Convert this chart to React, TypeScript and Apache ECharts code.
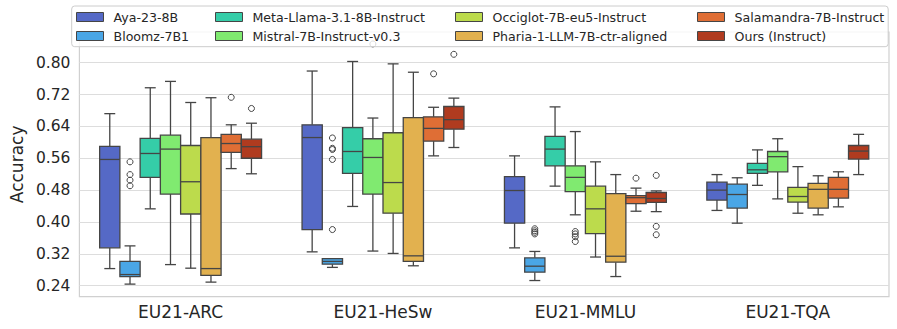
import React, { useEffect, useRef } from 'react';
import * as echarts from 'echarts';

const categories = ['EU21-ARC', 'EU21-HeSw', 'EU21-MMLU', 'EU21-TQA'];
const models = [
  'Aya-23-8B',
  'Bloomz-7B1',
  'Meta-Llama-3.1-8B-Instruct',
  'Mistral-7B-Instruct-v0.3',
  'Occiglot-7B-eu5-Instruct',
  'Pharia-1-LLM-7B-ctr-aligned',
  'Salamandra-7B-Instruct',
  'Ours (Instruct)',
];
const colors = ['#5569c6', '#4aa6e6', '#35cda8', '#80ea70', '#bcdb4c', '#e2b14f', '#df6e35', '#b03b1f'];

// [lower whisker, Q1, median, Q3, upper whisker] for ARC, HeSw, MMLU, TQA
const ayaStats = [
  [0.283, 0.335, 0.557, 0.590, 0.672],
  [0.325, 0.381, 0.612, 0.644, 0.779],
  [0.335, 0.397, 0.479, 0.514, 0.566],
  [0.429, 0.455, 0.480, 0.500, 0.519],
];
const bloomzStats = [
  [0.244, 0.263, 0.268, 0.301, 0.340],
  [0.286, 0.294, 0.301, 0.308, 0.308],
  [0.253, 0.274, 0.289, 0.310, 0.326],
  [0.397, 0.435, 0.469, 0.495, 0.511],
];
const metaStats = [
  [0.433, 0.512, 0.572, 0.610, 0.737],
  [0.439, 0.522, 0.577, 0.637, 0.803],
  [0.490, 0.541, 0.583, 0.615, 0.689],
  [0.492, 0.522, 0.531, 0.547, 0.581],
];
const mistralStats = [
  [0.293, 0.470, 0.583, 0.618, 0.753],
  [0.327, 0.470, 0.562, 0.609, 0.661],
  [0.418, 0.476, 0.512, 0.541, 0.627],
  [0.458, 0.526, 0.564, 0.577, 0.609],
];
const occiglotStats = [
  [0.284, 0.420, 0.501, 0.592, 0.700],
  [0.321, 0.422, 0.499, 0.624, 0.797],
  [0.312, 0.371, 0.433, 0.490, 0.551],
  [0.422, 0.450, 0.464, 0.487, 0.539],
];
const phariaStats = [
  [0.249, 0.266, 0.283, 0.612, 0.712],
  [0.290, 0.301, 0.315, 0.662, 0.776],
  [0.263, 0.299, 0.314, 0.471, 0.519],
  [0.418, 0.435, 0.482, 0.497, 0.516],
];
const salamandraStats = [
  [0.534, 0.575, 0.597, 0.620, 0.644],
  [0.566, 0.603, 0.635, 0.664, 0.688],
  [0.427, 0.446, 0.461, 0.466, 0.485],
  [0.438, 0.460, 0.482, 0.512, 0.526],
];
const oursStats = [
  [0.521, 0.560, 0.589, 0.608, 0.648],
  [0.587, 0.633, 0.657, 0.690, 0.711],
  [0.426, 0.449, 0.459, 0.474, 0.478],
  [0.519, 0.558, 0.578, 0.592, 0.620],
];

// outliers: [category index, value]
const ayaOutliers: number[][] = [];
const bloomzOutliers = [
  [0, 0.551], [0, 0.519], [0, 0.505], [0, 0.491],
  [1, 0.611], [1, 0.585], [1, 0.582], [1, 0.557], [1, 0.381],
  [2, 0.383], [2, 0.378], [2, 0.374], [2, 0.370],
];
const metaOutliers: number[][] = [];
const mistralOutliers = [
  [1, 0.847],
  [2, 0.376], [2, 0.370], [2, 0.363], [2, 0.351],
];
const occiglotOutliers: number[][] = [];
const phariaOutliers: number[][] = [];
const salamandraOutliers = [[0, 0.713], [1, 0.772], [2, 0.510]];
const oursOutliers = [[0, 0.685], [1, 0.821], [2, 0.517], [2, 0.389], [2, 0.368]];

const yTicks = [0.24, 0.32, 0.40, 0.48, 0.56, 0.64, 0.72, 0.80];

const allStats = [ayaStats, bloomzStats, metaStats, mistralStats, occiglotStats, phariaStats, salamandraStats, oursStats];
const allOutliers = [ayaOutliers, bloomzOutliers, metaOutliers, mistralOutliers, occiglotOutliers, phariaOutliers, salamandraOutliers, oursOutliers];

const LINE = '#454545';
const FONT = 'DejaVu Sans';
const TEXT = '#262626';
const GRIDC = '#dddddd';

export default function App() {
  const ref = useRef<HTMLDivElement>(null);
  useEffect(() => {
    if (!ref.current) return;
    const chart = echarts.init(ref.current, undefined, { renderer: 'svg' });
    const N = models.length;

    const boxSeries: any[] = models.map((name, mi) => ({
      type: 'custom',
      name,
      color: colors[mi],
      z: 2,
      data: allStats[mi].map((s, ci) => [ci, ...s]),
      encode: { x: 0, y: [1, 2, 3, 4, 5] },
      renderItem: (params: any, api: any) => {
        const ci = api.value(0);
        const band = api.size([1, 0])[0];
        const bw = (band * 0.8) / N;
        const cx = api.coord([ci, 0])[0] + (mi - (N - 1) / 2) * bw;
        const py = (d: number) => api.coord([ci, api.value(d)])[1];
        const lo = py(1), q1 = py(2), med = py(3), q3 = py(4), hi = py(5);
        const capHalf = bw * 0.27;
        const ls = { stroke: LINE, lineWidth: 1.3 };
        return {
          type: 'group',
          children: [
            { type: 'line', shape: { x1: cx, y1: q3, x2: cx, y2: hi }, style: ls },
            { type: 'line', shape: { x1: cx, y1: q1, x2: cx, y2: lo }, style: ls },
            { type: 'line', shape: { x1: cx - capHalf, y1: hi, x2: cx + capHalf, y2: hi }, style: ls },
            { type: 'line', shape: { x1: cx - capHalf, y1: lo, x2: cx + capHalf, y2: lo }, style: ls },
            {
              type: 'rect',
              shape: { x: cx - bw / 2, y: q3, width: bw, height: q1 - q3 },
              style: { fill: colors[mi], stroke: LINE, lineWidth: 1.3 },
            },
            { type: 'line', shape: { x1: cx - bw / 2, y1: med, x2: cx + bw / 2, y2: med }, style: ls },
          ],
        };
      },
    }));

    const outlierSeries: any[] = models
      .map((name, mi) => ({ name, mi }))
      .filter(({ mi }) => allOutliers[mi].length > 0)
      .map(({ name, mi }) => ({
        type: 'custom',
        name,
        color: colors[mi],
        z: 2,
        data: allOutliers[mi],
        encode: { x: 0, y: 1 },
        renderItem: (params: any, api: any) => {
          const ci = api.value(0);
          const band = api.size([1, 0])[0];
          const bw = (band * 0.8) / N;
          const p = api.coord([ci, api.value(1)]);
          const cx = p[0] + (mi - (N - 1) / 2) * bw;
          return {
            type: 'circle',
            shape: { cx, cy: p[1], r: 3 },
            style: { fill: 'none', stroke: LINE, lineWidth: 1 },
          };
        },
      }));

    const legendCols = [
      { left: 76, names: [models[0], models[1]] },
      { left: 215, names: [models[2], models[3]] },
      { left: 455, names: [models[4], models[5]] },
      { left: 697, names: [models[6], models[7]] },
    ];

    const legends = legendCols.map((c) => ({
      show: true,
      orient: 'vertical',
      left: c.left,
      top: 10,
      padding: 0,
      itemGap: 5,
      itemWidth: 27,
      itemHeight: 9,
      icon: 'rect',
      selectedMode: false,
      z: 5,
      itemStyle: { borderColor: LINE, borderWidth: 1 },
      textStyle: { fontFamily: FONT, fontSize: 12.6, color: TEXT, lineHeight: 14, padding: [0, 0, 0, 5] },
      data: c.names,
    }));

    chart.setOption({
      animation: false,
      backgroundColor: '#ffffff',
      textStyle: { fontFamily: FONT },
      grid: {
        left: 71,
        right: 8,
        top: 32,
        bottom: 32.3,
        show: true,
        borderColor: '#d0d0d0',
        borderWidth: 1.2,
        backgroundColor: 'transparent',
      },
      legend: legends,
      graphic: [
        {
          type: 'rect',
          z: 3,
          shape: { x: 71.7, y: 6, width: 816.5, height: 40.7, r: 3 },
          style: { fill: 'rgba(255,255,255,0.8)', stroke: '#cccccc', lineWidth: 1 },
        },
      ],
      xAxis: {
        type: 'category',
        data: categories,
        boundaryGap: true,
        axisLine: { show: false },
        axisTick: { show: false },
        splitLine: { show: false },
        axisLabel: { fontFamily: FONT, fontSize: 17, color: TEXT, margin: 7 },
      },
      yAxis: {
        type: 'value',
        min: 0.2124,
        max: 0.877,
        name: 'Accuracy',
        nameLocation: 'middle',
        nameGap: 52,
        nameRotate: 90,
        nameTextStyle: { fontFamily: FONT, fontSize: 17, color: TEXT },
        axisLine: { show: false },
        axisTick: { show: false, customValues: yTicks },
        axisLabel: {
          fontFamily: FONT,
          fontSize: 15.5,
          color: TEXT,
          margin: 9,
          customValues: yTicks,
          formatter: (v: number) => v.toFixed(2),
        },
        splitLine: { show: true, lineStyle: { color: GRIDC, width: 1.2 } },
      },
      series: [...boxSeries, ...outlierSeries],
    });
    return () => chart.dispose();
  }, []);
  return <div ref={ref} style={{ position: 'fixed', left: 0, top: 0, width: 897, height: 329 }} />;
}
